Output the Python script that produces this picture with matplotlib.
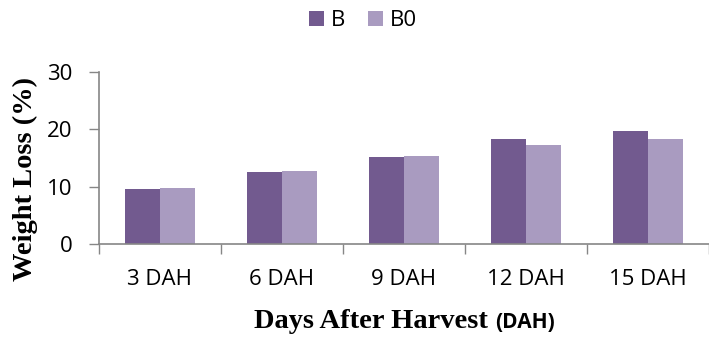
import matplotlib
matplotlib.use("Agg")
import matplotlib.pyplot as plt
import numpy as np
from matplotlib.offsetbox import TextArea, HPacker, AnchoredOffsetbox

# data
days = ["3 DAH", "6 DAH", "9 DAH", "12 DAH", "15 DAH"]
loss_b = [9.6, 12.5, 15.2, 18.3, 19.6]
loss_b0 = [9.7, 12.7, 15.3, 17.2, 18.2]

col_b = "#725A8F"
col_b0 = "#A99BC0"
axis_grey = "#868686"
tick_font = "Open Sans"

fig = plt.figure(figsize=(7.09, 3.38), dpi=100)
ax = fig.add_axes([0.1396, 0.2781, 0.8604, 0.5098])

x = np.arange(len(days))
w = 0.286
ax.bar(x - w / 2, loss_b, w, color=col_b, label="B")
ax.bar(x + w / 2, loss_b0, w, color=col_b0, label="B0")

ax.set_xlim(-0.5, len(days) - 0.5)
ax.set_ylim(0, 30)
ax.set_yticks([0, 10, 20, 30])

# category ticks sit between groups, labels in the middle
ax.set_xticks(np.arange(len(days) + 1) - 0.5)
ax.set_xticklabels([])
ax.set_xticks(x, minor=True)
ax.set_xticklabels(days, minor=True, fontsize=16, family=tick_font)
ax.tick_params(axis="x", which="major", length=7, width=1, color=axis_grey, direction="out")
ax.tick_params(axis="x", which="minor", length=0, pad=18)
ax.tick_params(axis="y", length=7, width=1, color=axis_grey, pad=12)
for lab in ax.get_yticklabels():
    lab.set_family(tick_font)
    lab.set_fontsize(16)

for s in ["top", "right"]:
    ax.spines[s].set_visible(False)
for s in ["left", "bottom"]:
    ax.spines[s].set_color(axis_grey)
    ax.spines[s].set_linewidth(1.2)

# y label
fig.text(0.036, 0.47, "Weight Loss (%)", rotation=90, ha="center", va="center",
         family="Liberation Serif", weight="bold", fontsize=20.5)

# x label: serif words followed by sans "(DAH)"
part1 = TextArea("Days After Harvest ", textprops=dict(family="Liberation Serif",
                 weight="bold", fontsize=20.5))
part2 = TextArea("(DAH)", textprops=dict(family=tick_font, weight="bold", fontsize=15))
box = HPacker(children=[part1, part2], align="baseline", pad=0, sep=0)
anch = AnchoredOffsetbox(loc="center", child=box, frameon=False, pad=0,
                         bbox_to_anchor=(0.57, 0.05), bbox_transform=fig.transFigure,
                         borderpad=0)
fig.add_artist(anch)

leg = fig.legend(loc="center", bbox_to_anchor=(0.512, 0.938), ncol=2, frameon=False,
                 prop=dict(family=tick_font, size=16), handlelength=0.7, handleheight=0.7,
                 handletextpad=0.3, columnspacing=1.0)

fig.savefig("out.png", dpi=100)
